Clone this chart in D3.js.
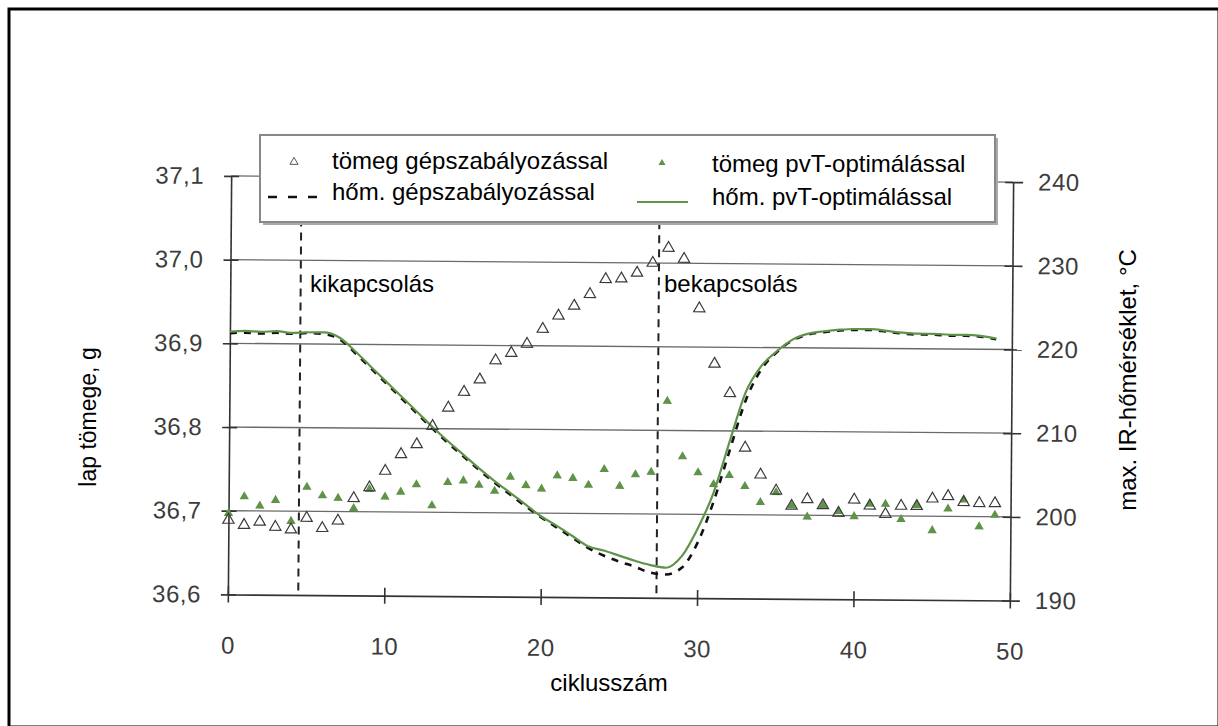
<!DOCTYPE html>
<html>
<head>
<meta charset="utf-8">
<script src="https://cdnjs.cloudflare.com/ajax/libs/d3/7.8.5/d3.min.js"></script>
<style>
    body { margin: 0; background: #fff; }
    svg { display: block; font-family: "Liberation Sans", Arial, sans-serif; }
</style>
</head>
<body>
<div id="chart"></div>
<script>
// Data
var cycles = d3.range(0, 50);

// lap tömege, g - gépszabályozással (open triangles)
var massMachine = [
    36.689, 36.683, 36.687, 36.681, 36.678, 36.692, 36.680, 36.689, 36.716, 36.729,
    36.749, 36.769, 36.781, 36.803, 36.825, 36.844, 36.859, 36.882, 36.891, 36.902,
    36.920, 36.936, 36.948, 36.962, 36.980, 36.981, 36.988, 37.000, 37.018, 37.005,
    36.946, 36.880, 36.845, 36.780, 36.748, 36.729, 36.711, 36.719, 36.712, 36.703,
    36.719, 36.712, 36.702, 36.712, 36.712, 36.721, 36.724, 36.717, 36.716, 36.716
];

// lap tömege, g - pvT-optimálással (filled triangles)
var massPvT = [
    36.697, 36.717, 36.706, 36.713, 36.688, 36.729, 36.719, 36.716, 36.704, 36.727,
    36.718, 36.724, 36.733, 36.708, 36.736, 36.738, 36.733, 36.726, 36.743, 36.733,
    36.729, 36.745, 36.742, 36.734, 36.753, 36.733, 36.747, 36.750, 36.835, 36.769,
    36.750, 36.736, 36.747, 36.734, 36.715, 36.727, 36.711, 36.698, 36.712, 36.705,
    36.699, 36.714, 36.714, 36.696, 36.713, 36.683, 36.709, 36.720, 36.688, 36.702
];

// max. IR-hőmérséklet, °C - gépszabályozással (dashed)
var tempMachine = [
    221.2, 221.3, 221.2, 221.3, 221.2, 221.3, 221.2, 220.6, 219.0, 217.2,
    215.4, 213.6, 211.8, 210.0, 208.3, 206.7, 205.1, 203.6, 202.2, 200.8,
    199.5, 198.3, 197.1, 195.9, 195.0, 194.3, 193.7, 193.0, 192.8, 193.6,
    196.6, 201.5, 207.6, 213.6, 217.4, 219.5, 220.9, 221.6, 221.9, 222.1,
    222.2, 222.2, 222.0, 221.8, 221.7, 221.7, 221.6, 221.6, 221.5, 221.2
];

// max. IR-hőmérséklet, °C - pvT-optimálással (solid green)
var tempPvT = [
    221.4, 221.5, 221.4, 221.5, 221.3, 221.4, 221.4, 220.8, 219.2, 217.4,
    215.6, 213.8, 212.0, 210.2, 208.5, 206.9, 205.3, 203.8, 202.4, 201.0,
    199.6, 198.5, 197.3, 196.1, 195.6, 195.0, 194.4, 193.9, 193.6, 195.0,
    198.3, 202.6, 208.7, 214.6, 217.8, 219.6, 221.0, 221.7, 222.0, 222.2,
    222.3, 222.3, 222.1, 221.9, 221.8, 221.8, 221.7, 221.7, 221.6, 221.3
];

var massTicks = [36.6, 36.7, 36.8, 36.9, 37.0, 37.1];
var tempTicks = [190, 200, 210, 220, 230, 240];
var cycleTicks = [0, 10, 20, 30, 40, 50];

var switchOff = 4.5,   // kikapcsolás
    switchOn = 27.4;   // bekapcsolás

var legendLabels = [
    "tömeg gépszabályozással", "hőm. gépszabályozással",
    "tömeg pvT-optimálással", "hőm. pvT-optimálással"
];

var chart_width = 1218,
    chart_height = 726;

var green = "#5f9348";

var hu = d3.formatLocale({ decimal: ",", thousands: " ", grouping: [3], currency: ["", " Ft"] });

// Scales
var x = d3.scaleLinear().domain([0, 50]).range([229.5, 1011.5]);
var y = d3.scaleLinear().domain([36.6, 37.1]).range([597.5, 179]);
var y2 = d3.scaleLinear().domain([190, 240]).range([597.5, 179]);

// Create SVG
var svg = d3.select("#chart")
    .append("svg")
    .attr("width", chart_width)
    .attr("height", chart_height);

svg.append("rect")
    .attr("x", 9).attr("y", 9)
    .attr("width", 1210).attr("height", 718)
    .attr("fill", "#fff")
    .attr("stroke", "#000")
    .attr("stroke-width", 3);

// the scanned plot is a little tilted
var plot = svg.append("g")
    .attr("transform", "rotate(0.45, 620, 388)");

// grid
plot.append("g")
    .selectAll("line")
    .data(massTicks.slice(1))
    .enter()
    .append("line")
    .attr("x1", x(0)).attr("x2", x(50))
    .attr("y1", function (d) { return y(d); })
    .attr("y2", function (d) { return y(d); })
    .attr("stroke", "#6a6a6a")
    .attr("stroke-width", 1.3);

// Axes
var leftAxis = plot.append("g")
    .attr("transform", "translate(" + x(0) + ",0)")
    .call(d3.axisLeft(y).tickValues(massTicks).tickFormat(hu.format(".1f"))
        .tickSize(7).tickSizeOuter(0).tickPadding(20));
leftAxis.selectAll(".tick line").attr("x1", 8);

var rightAxis = plot.append("g")
    .attr("transform", "translate(" + x(50) + ",0)")
    .call(d3.axisRight(y2).tickValues(tempTicks).tickFormat(d3.format("d"))
        .tickSize(10).tickSizeOuter(0).tickPadding(15));
rightAxis.selectAll(".tick line").attr("x1", -8);

var bottomAxis = plot.append("g")
    .attr("transform", "translate(0," + y(36.6) + ")")
    .call(d3.axisBottom(x).tickValues(cycleTicks).tickFormat(d3.format("d"))
        .tickSize(8).tickSizeOuter(0).tickPadding(34));
bottomAxis.selectAll(".tick line").attr("y1", -8);

plot.selectAll(".domain, .tick line")
    .attr("stroke", "#333")
    .attr("stroke-width", 1.6);
plot.selectAll(".tick text")
    .attr("fill", "#3c3c3c")
    .style("font-size", "24px")
    .style("letter-spacing", "0.5px")
    .style("font-family", "'Liberation Sans', Arial, sans-serif");

// switch off / on markers
plot.append("g")
    .selectAll("line")
    .data([switchOff, switchOn])
    .enter()
    .append("line")
    .attr("x1", function (d) { return x(d); })
    .attr("x2", function (d) { return x(d); })
    .attr("y1", y(37.1))
    .attr("y2", y(36.6))
    .attr("stroke", "#222")
    .attr("stroke-width", 2)
    .attr("stroke-dasharray", "8,6");

// temperature lines
var tempLine = d3.line()
    .x(function (d, i) { return x(cycles[i]); })
    .y(function (d) { return y2(d); })
    .curve(d3.curveMonotoneX);

plot.append("path")
    .datum(tempMachine)
    .attr("d", tempLine)
    .attr("fill", "none")
    .attr("stroke", "#111")
    .attr("stroke-width", 2.6)
    .attr("stroke-dasharray", "7,7");

plot.append("path")
    .datum(tempPvT)
    .attr("d", tempLine)
    .attr("fill", "none")
    .attr("stroke", green)
    .attr("stroke-width", 2.2);

// mass points
var triangle = d3.symbol().type(d3.symbolTriangle);

plot.append("g")
    .selectAll("path")
    .data(massPvT)
    .enter()
    .append("path")
    .attr("d", triangle.size(38)())
    .attr("transform", function (d, i) { return "translate(" + x(cycles[i]) + "," + y(d) + ")"; })
    .attr("fill", green);

plot.append("g")
    .selectAll("path")
    .data(massMachine)
    .enter()
    .append("path")
    .attr("d", triangle.size(55)())
    .attr("transform", function (d, i) { return "translate(" + x(cycles[i]) + "," + y(d) + ")"; })
    .attr("fill", "none")
    .attr("stroke", "#3a3a3a")
    .attr("stroke-width", 1.2);

// Legend
var legend = svg.append("g");

legend.append("rect")
    .attr("x", 263).attr("y", 138)
    .attr("width", 735).attr("height", 87)
    .attr("fill", "#aaa");

legend.append("rect")
    .attr("x", 260).attr("y", 135)
    .attr("width", 735).attr("height", 87)
    .attr("fill", "#fff")
    .attr("stroke", "#888")
    .attr("stroke-width", 2);

legend.append("path")
    .attr("d", triangle.size(28)())
    .attr("transform", "translate(294,162)")
    .attr("fill", "none")
    .attr("stroke", "#555")
    .attr("stroke-width", 1);

legend.append("line")
    .attr("x1", 268).attr("x2", 318)
    .attr("y1", 197).attr("y2", 197)
    .attr("stroke", "#111")
    .attr("stroke-width", 2.6)
    .attr("stroke-dasharray", "9,11");

legend.append("path")
    .attr("d", triangle.size(22)())
    .attr("transform", "translate(662,163)")
    .attr("fill", green);

legend.append("line")
    .attr("x1", 637).attr("x2", 688)
    .attr("y1", 202).attr("y2", 202)
    .attr("stroke", green)
    .attr("stroke-width", 2);

var legendPos = [[332, 169], [332, 200], [712, 172], [712, 205]];
legend.selectAll("text")
    .data(legendLabels)
    .enter()
    .append("text")
    .attr("x", function (d, i) { return legendPos[i][0]; })
    .attr("y", function (d, i) { return legendPos[i][1]; })
    .style("font-size", "24px")
    .attr("fill", "#000")
    .text(function (d) { return d; });

// Annotations
svg.append("text")
    .attr("x", 310).attr("y", 292)
    .style("font-size", "24px")
    .text("kikapcsolás");

svg.append("text")
    .attr("x", 664).attr("y", 292)
    .style("font-size", "24px")
    .text("bekapcsolás");

// Axis titles
svg.append("text")
    .attr("transform", "translate(88,417) rotate(-90)")
    .attr("text-anchor", "middle")
    .attr("dy", "0.35em")
    .style("font-size", "23px")
    .text("lap tömege, g");

svg.append("text")
    .attr("transform", "translate(1128,380) rotate(-90)")
    .attr("text-anchor", "middle")
    .attr("dy", "0.35em")
    .style("font-size", "24px")
    .text("max. IR-hőmérséklet, °C");

svg.append("text")
    .attr("x", 609).attr("y", 691)
    .attr("text-anchor", "middle")
    .style("font-size", "24px")
    .text("ciklusszám");
</script>
</body>
</html>
